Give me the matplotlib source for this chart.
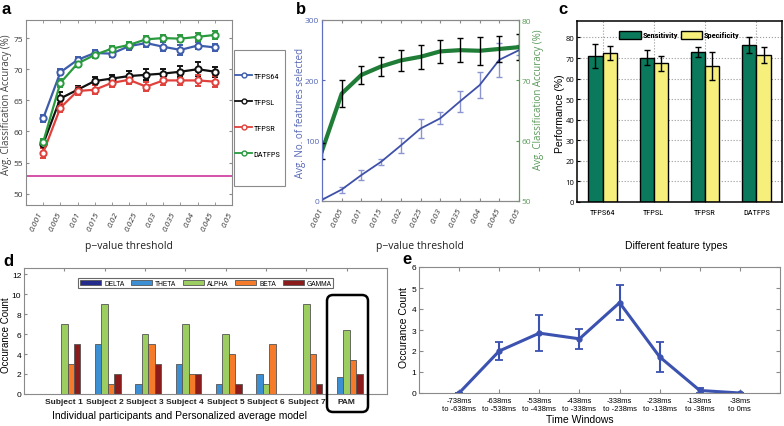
import numpy as np
import matplotlib
matplotlib.use('Agg')
import matplotlib.pyplot as plt
from matplotlib import font_manager
from matplotlib.lines import Line2D
from matplotlib.patches import Rectangle, FancyBboxPatch
from matplotlib.transforms import ScaledTranslation


def pick(*names):
    for n in names:
        try:
            font_manager.findfont(font_manager.FontProperties(family=n), fallback_to_default=False)
            return n
        except Exception:
            pass
    return 'DejaVu Sans'


SANS = pick('Open Sans', 'DejaVu Sans')
ARIAL = pick('Liberation Sans', 'DejaVu Sans')
NARROW = pick('Liberation Sans Narrow', 'Roboto Condensed', 'Liberation Sans')
plt.rcParams['font.family'] = [SANS, 'DejaVu Sans']

# ---- data: panel a / b ----
p_labels = ['0.001', '0.005', '0.01', '0.015', '0.02', '0.025', '0.03', '0.035', '0.04', '0.045', '0.05']
acc_tfps64 = [62.1, 69.5, 71.5, 72.6, 72.5, 73.7, 74.2, 73.6, 73.1, 73.8, 73.5]
err_tfps64 = [0.6, 0.5, 0.5, 0.5, 0.5, 0.6, 0.7, 0.7, 0.8, 0.6, 0.6]
acc_tfpsl = [58.0, 65.3, 66.7, 68.1, 68.5, 68.9, 69.1, 69.3, 69.6, 70.0, 69.6]
err_tfpsl = [0.6, 1.0, 0.6, 0.7, 0.6, 0.8, 0.9, 0.8, 0.9, 1.1, 0.8]
acc_tfpsr = [56.6, 63.8, 66.5, 66.7, 67.8, 68.3, 67.2, 68.2, 68.2, 68.2, 68.0]
err_tfpsr = [0.8, 0.7, 0.6, 0.7, 0.6, 0.7, 0.7, 0.8, 0.8, 0.9, 0.9]
acc_datfps = [58.3, 67.8, 70.9, 72.3, 73.3, 73.9, 74.8, 75.0, 74.9, 75.2, 75.5]
err_datfps = [0.5, 0.7, 0.5, 0.5, 0.5, 0.5, 0.5, 0.5, 0.6, 0.6, 0.6]
chance_level = 52.8

n_features = [2, 19, 43, 65, 92, 120, 137, 165, 192, 234, 250]
n_features_err = [3, 5, 8, 5, 12, 16, 10, 17, 22, 28, 8]
acc_datfps_sd = [1.3, 2.2, 1.5, 1.6, 1.8, 2.0, 1.9, 2.0, 2.3, 2.2, 2.2]

# ---- data: panel c ----
feature_types = ['TFPS64', 'TFPSL', 'TFPSR', 'DATFPS']
sensitivity = [71.0, 70.2, 72.8, 76.2]
sensitivity_err = [5.8, 3.5, 2.5, 4.0]
specificity = [72.4, 67.5, 66.2, 71.6]
specificity_err = [3.4, 3.6, 6.9, 3.9]

# ---- data: panel d ----
subjects = ['Subject 1', 'Subject 2', 'Subject 3', 'Subject 4', 'Subject 5', 'Subject 6', 'Subject 7', 'PAM']
bands = ['DELTA', 'THETA', 'ALPHA', 'BETA', 'GAMMA']
delta = [0, 0, 0, 0, 0, 0, 0, 0]
theta = [0, 5, 1, 3, 1, 2, 0, 1.71]
alpha = [7, 9, 6, 7, 6, 1, 9, 6.43]
beta = [3, 1, 5, 2, 4, 5, 4, 3.43]
gamma = [5, 2, 3, 2, 1, 0, 1, 2.0]

# ---- data: panel e ----
windows = ['-738ms\nto -638ms', '-638ms\nto -538ms', '-538ms\nto -438ms', '-438ms\nto -338ms',
           '-338ms\nto -238ms', '-238ms\nto -138ms', '-138ms\nto -38ms', '-38ms\nto 0ms']
occurrence = [0, 2.0, 2.85, 2.58, 4.3, 1.72, 0.12, 0.0]
occurrence_err = [0, 0.41, 0.86, 0.49, 0.83, 0.72, 0.1, 0]

W, H = 784, 427
fig = plt.figure(figsize=(W / 100, H / 100), dpi=100)


def box(l, t, r, b):
    return fig.add_axes([l / W, 1 - b / H, (r - l) / W, (b - t) / H])


def ftext(x, y, s, **kw):
    return fig.text(x / W, 1 - y / H, s, **kw)


GRAY = '#8a8a8a'

# ================= a =================
ax_a = box(26, 21, 232, 206)
x_p = np.arange(1, len(p_labels) + 1)
series_a = [(acc_tfps64, err_tfps64, '#3d5cab', 'TFPS64'),
            (acc_tfpsl, err_tfpsl, '#111111', 'TFPSL'),
            (acc_tfpsr, err_tfpsr, '#e0413c', 'TFPSR'),
            (acc_datfps, err_datfps, '#2a9a3e', 'DATFPS')]
handles = []
for acc, err, col, lab in series_a:
    ax_a.errorbar(x_p, acc, yerr=err, color=col, lw=1.6, marker='o', ms=4.5, mfc='white',
                  mew=1.4, capsize=2, elinewidth=1.2)
    handles.append(Line2D([], [], color=col, lw=1.3, marker='o', ms=3.5, mfc='white', mew=1.0, label=lab))
ax_a.axhline(chance_level, color='#cc3399', lw=1.2)
ax_a.set_xlim(0, 12)
ax_a.set_ylim(48.2, 77.9)
ax_a.set_yticks([50, 55, 60, 65, 70, 75])
ax_a.set_xticks(x_p, minor=True)
ax_a.set_xticks(np.linspace(0.86, 11.95, 11))
ax_a.set_xticklabels(p_labels, rotation=65, ha='right', va='center', rotation_mode='anchor',
                     fontstyle='italic', fontsize=6, color='#333')
ax_a.tick_params(axis='x', which='major', length=0, pad=5)
ax_a.tick_params(axis='x', which='minor', direction='in', length=2.5, top=True, color=GRAY)
ax_a.tick_params(axis='y', direction='in', length=2.5, right=True, labelsize=6, labelcolor='#333',
                 color=GRAY, pad=2)
for s in ax_a.spines.values():
    s.set_color(GRAY)
ftext(7, 105, 'Avg. Classification Accuracy (%)', rotation=90, ha='center', va='center', fontsize=7, color='#444')
ftext(129, 247, 'p\u2212value threshold', ha='center', va='center', fontsize=7.5, color='#222')

# legend of a (frame drawn separately)
fig.patches.append(Rectangle((234 / W, 1 - 187 / H), 51 / W, 136 / H, transform=fig.transFigure,
                             fill=False, edgecolor=GRAY, lw=0.8))
fig.legend(handles=handles, loc='upper left', bbox_to_anchor=(235.5 / W, 1 - 73 / H), frameon=False,
           borderaxespad=0, borderpad=0, labelspacing=2.3, handlelength=2.0, handletextpad=0.2,
           prop=dict(family=NARROW, size=6))

# ================= b =================
BLUE = '#3f50a8'
GREEN = '#1f7d37'
ax_b = box(322, 21, 519, 202)
ax_b.errorbar(x_p, n_features, yerr=n_features_err, color=BLUE, lw=1.3, ecolor='#8c95d0',
              elinewidth=1.0, capsize=2.5)
ax_b.set_xlim(1, 11)
ax_b.set_ylim(0, 300)
ax_b.set_yticks([0, 100, 200, 300])
ax_b2 = ax_b.twinx()
ax_b2.plot(x_p, acc_datfps, color=GREEN, lw=3)
ax_b2.errorbar(x_p, acc_datfps, yerr=acc_datfps_sd, fmt='none', ecolor='black', elinewidth=1, capsize=2.5)
ax_b2.set_ylim(50, 80)
ax_b2.set_yticks([50, 60, 70, 80])
ax_b.set_xticks(x_p)
ax_b.set_xticklabels(p_labels, rotation=65, ha='right', va='center', rotation_mode='anchor',
                     fontstyle='italic', fontsize=6, color='#333')
off = ScaledTranslation(4 / 100, 0, fig.dpi_scale_trans)
for lbl in ax_b.get_xticklabels():
    lbl.set_transform(lbl.get_transform() + off)
ax_b.tick_params(axis='x', direction='in', length=2.5, top=True, pad=5, color=GRAY)
ax_b.tick_params(axis='y', direction='in', length=2.5, labelsize=6, colors='#5566b5', pad=2)
ax_b2.tick_params(axis='y', direction='in', length=2.5, labelsize=6, colors='#5a9a5a', pad=2)
for a_ in (ax_b, ax_b2):
    a_.spines['top'].set_color(GRAY)
    a_.spines['bottom'].set_color(GRAY)
    a_.spines['left'].set_color('#6070c0')
    a_.spines['right'].set_color('#5aa05a')
ftext(301, 113, 'Avg. No. of features selected', rotation=90, ha='center', va='center', fontsize=7, color='#5566b5')
ftext(538, 100, 'Avg. Classification Accuracy (%)', rotation=90, ha='center', va='center', fontsize=7, color='#5a9a5a')
ftext(420, 247, 'p\u2212value threshold', ha='center', va='center', fontsize=7.5, color='#222')

# ================= c =================
ax_c = box(577, 22, 782, 203)
x_c = np.arange(1, len(feature_types) + 1)
bw = 0.28
ax_c.bar(x_c - bw / 2, sensitivity, bw, yerr=sensitivity_err, color='#0b7a5c', edgecolor='black', lw=1,
         capsize=2, error_kw=dict(elinewidth=1, capthick=1), label='Sensitivity')
ax_c.bar(x_c + bw / 2, specificity, bw, yerr=specificity_err, color='#f6ef7c', edgecolor='black', lw=1,
         capsize=2, error_kw=dict(elinewidth=1, capthick=1), label='Specificity')
ax_c.set_xlim(0.5, 4.5)
ax_c.set_ylim(0, 88)
ax_c.set_yticks(range(0, 81, 10))
ax_c.set_xticks(x_c)
ax_c.set_xticklabels(feature_types, fontsize=6, family=NARROW)
ax_c.grid(True, ls=':', color='#999', lw=0.8)
ax_c.set_axisbelow(True)
ax_c.tick_params(axis='both', direction='in', length=2, labelsize=5.5, pad=2)
ax_c.tick_params(axis='x', pad=5, labelsize=6)
for s in ax_c.spines.values():
    s.set_color('black')
    s.set_linewidth(1.1)
ax_c.legend(ncol=2, loc='center', bbox_to_anchor=(0.5, 0.925), frameon=False, handlelength=2.6,
            handleheight=1.1, columnspacing=0.3, handletextpad=0.2,
            prop=dict(family=NARROW, weight='bold', size=6))
ftext(560, 114, 'Performance (%)', rotation=90, ha='center', va='center', fontsize=7.5, family=ARIAL)
ftext(676, 246, 'Different feature types', ha='center', va='center', fontsize=7.5, family=ARIAL)

# ================= d =================
ax_d = box(24, 269, 387, 395)
x_d = np.arange(1, len(subjects) + 1)
bw_d = 0.16
band_vals = [delta, theta, alpha, beta, gamma]
band_colors = ['#232c8c', '#3d8fd4', '#9ccd60', '#f57b2b', '#8c1b1b']
for i, (vals, col, lab) in enumerate(zip(band_vals, band_colors, bands)):
    ax_d.bar(x_d + (i - 2) * bw_d, vals, bw_d, color=col, edgecolor='#555', lw=0.6, label=lab)
ax_d.set_xlim(0, 9)
ax_d.set_ylim(0, 12.6)
ax_d.set_yticks(range(0, 13, 2))
ax_d.set_xticks(x_d)
ax_d.set_xticklabels(subjects, fontsize=6, family=ARIAL, fontweight='bold', color='#222')
ax_d.tick_params(axis='x', direction='in', length=2.5, top=True, bottom=False, pad=3, color=GRAY)
ax_d.tick_params(axis='y', direction='in', length=2.5, labelsize=6, labelfontfamily=ARIAL, color=GRAY, pad=2)
for s in ax_d.spines.values():
    s.set_color(GRAY)
leg_d = ax_d.legend(ncol=5, loc='center', bbox_to_anchor=(0.501, 0.88), frameon=True, fancybox=False,
                    edgecolor='#444', handlelength=3.2, handleheight=0.9, columnspacing=1.0,
                    handletextpad=0.4, borderpad=0.25, prop=dict(family=ARIAL, size=4.8))
leg_d.get_frame().set_linewidth(0.8)
fig.patches.append(FancyBboxPatch((3.27, (H - 413) / 100), 0.41, 1.17,
                                  boxstyle='round,pad=0,rounding_size=0.06',
                                  transform=fig.dpi_scale_trans, fill=False, ec='black', lw=1.8))
ftext(6, 335, 'Occurance Count', rotation=90, ha='center', va='center', fontsize=7, family=ARIAL)
ftext(179, 416, 'Individual participants and Personalized average model', ha='center', va='center',
      fontsize=7.5, family=ARIAL)

# ================= e =================
ax_e = box(419, 268, 780, 394)
x_e = np.arange(1, len(windows) + 1)
ax_e.errorbar(x_e, occurrence, yerr=occurrence_err, color='#3b52b0', lw=2.2, marker='o', ms=3.5,
              capsize=3, elinewidth=1.5, capthick=1.3)
ax_e.set_xlim(0, 9)
ax_e.set_ylim(0, 6)
ax_e.set_yticks(range(0, 7))
ax_e.set_xticks(x_e)
ax_e.set_xticklabels(windows, fontsize=5.5, family=ARIAL, linespacing=1.1)
ax_e.tick_params(axis='both', direction='in', length=3, top=True, right=True, labelsize=6, color=GRAY)
ax_e.tick_params(axis='x', labelsize=5.5, pad=3)
ax_e.tick_params(axis='y', labelfontfamily=ARIAL, pad=2)
for s in ax_e.spines.values():
    s.set_color(GRAY)
ftext(404, 328, 'Occurance Count', rotation=90, ha='center', va='center', fontsize=7.5, family=ARIAL)
ftext(580, 420, 'Time Windows', ha='center', va='center', fontsize=7.5, family=ARIAL)

# panel letters
for lx, ly, ch in [(2, 9, 'a'), (296, 10, 'b'), (558, 9, 'c'), (3, 262, 'd'), (402, 260, 'e')]:
    ftext(lx, ly, ch, ha='left', va='center', fontsize=12, fontweight='bold', family=ARIAL)

fig.savefig('out.png', dpi=100)
